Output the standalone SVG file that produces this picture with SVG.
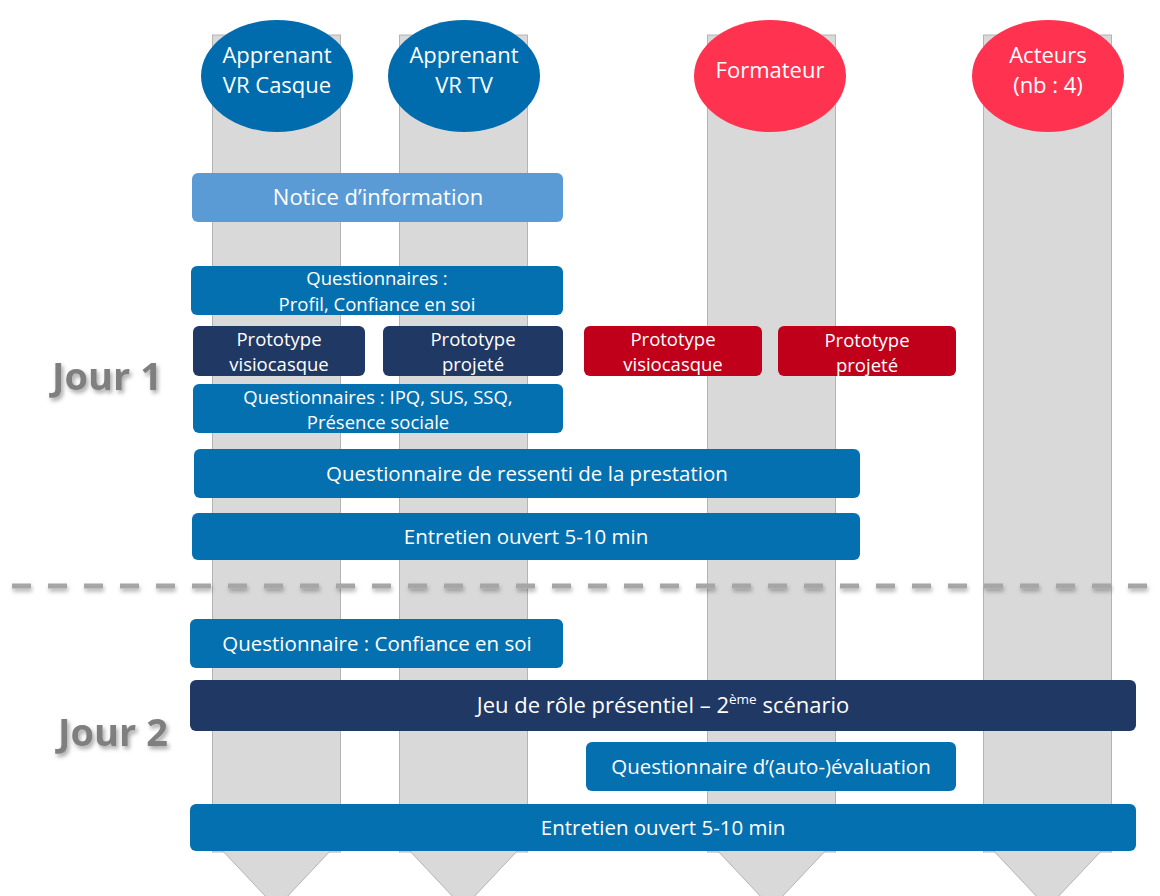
<svg xmlns="http://www.w3.org/2000/svg" width="1160" height="896" viewBox="0 0 1160 896">
<defs>
<style>
.lane{fill:#D9D9D9;stroke:#B4B4B4;stroke-width:1}
.ell-blue{fill:#006CAD}
.ell-red{fill:#FF324F}
.box-light{fill:#5B9BD5}
.box-blue{fill:#0570AF}
.box-navy{fill:#203864}
.box-red{fill:#C0001A}
.t{font-family:"Open Sans","Liberation Sans",sans-serif;fill:#FFFFFF;text-anchor:middle}
.t22{font-size:22px}
.t20{font-size:20.5px}
.t17{font-size:18.5px}
.day{font-family:"Open Sans","Liberation Sans",sans-serif;font-weight:bold;font-size:38px;fill:#7F7F7F;filter:url(#sh)}
</style>
<filter id="sh" x="-20%" y="-20%" width="150%" height="160%">
<feDropShadow dx="2" dy="3" stdDeviation="2" flood-color="#000000" flood-opacity="0.35"/>
</filter>
<filter id="lsh" filterUnits="userSpaceOnUse" x="0" y="570" width="1160" height="40">
<feDropShadow dx="1" dy="3" stdDeviation="2" flood-color="#000000" flood-opacity="0.3"/>
</filter>
</defs>
<rect width="1160" height="896" fill="#FFFFFF"/>

<g id="lanes">
<rect class="lane" x="212.5" y="35" width="128" height="817"/>
<polygon class="lane" points="212.5,840 340.5,840 276.5,908" stroke="none"/>
<rect class="lane" x="399.5" y="35" width="128" height="817"/>
<polygon class="lane" points="399.5,840 527.5,840 463.5,908" stroke="none"/>
<rect class="lane" x="707.5" y="35" width="128" height="817"/>
<polygon class="lane" points="707.5,840 835.5,840 771.5,908" stroke="none"/>
<rect class="lane" x="983.5" y="35" width="128" height="817"/>
<polygon class="lane" points="983.5,840 1111.5,840 1047.5,908" stroke="none"/>
</g>

<g id="connectors"></g>

<g id="separator">
<line x1="12" y1="586" x2="1160" y2="586" stroke="#A6A6A6" stroke-width="5" stroke-dasharray="19,17" filter="url(#lsh)"/>
</g>

<g id="actor-vr-casque">
<ellipse class="ell-blue" cx="277" cy="76" rx="76" ry="56"/>
<text class="t t22" x="277" y="63">Apprenant</text>
<text class="t t22" x="277" y="93">VR Casque</text>
</g>
<g id="actor-vr-tv">
<ellipse class="ell-blue" cx="464" cy="76" rx="76" ry="56"/>
<text class="t t22" x="464" y="63">Apprenant</text>
<text class="t t22" x="464" y="93">VR TV</text>
</g>
<g id="actor-formateur">
<ellipse class="ell-red" cx="770" cy="76" rx="76" ry="56"/>
<text class="t t22" x="770" y="78">Formateur</text>
</g>
<g id="actor-acteurs">
<ellipse class="ell-red" cx="1048" cy="76" rx="76" ry="56"/>
<text class="t t22" x="1048" y="63">Acteurs</text>
<text class="t t22" x="1048" y="93">(nb : 4)</text>
</g>

<g id="jour1-label"><text class="day" x="52" y="390">Jour 1</text></g>
<g id="jour2-label"><text class="day" x="58" y="746">Jour 2</text></g>

<g id="notice">
<rect class="box-light" x="192" y="173" width="371" height="49" rx="6"/>
<text class="t t22" x="378" y="205">Notice d’information</text>
</g>
<g id="q-profil">
<rect class="box-blue" x="191" y="266" width="372" height="49" rx="6"/>
<text class="t t17" x="377" y="285">Questionnaires :</text>
<text class="t t17" x="377" y="311">Profil, Confiance en soi</text>
</g>
<g id="proto-visio-app">
<rect class="box-navy" x="193" y="326" width="172" height="50" rx="6"/>
<text class="t t17" x="279" y="346">Prototype</text>
<text class="t t17" x="279" y="371">visiocasque</text>
</g>
<g id="proto-proj-app">
<rect class="box-navy" x="383" y="326" width="180" height="50" rx="6"/>
<text class="t t17" x="473" y="346">Prototype</text>
<text class="t t17" x="473" y="371">projeté</text>
</g>
<g id="proto-visio-form">
<rect class="box-red" x="584" y="326" width="178" height="50" rx="6"/>
<text class="t t17" x="673" y="346">Prototype</text>
<text class="t t17" x="673" y="371">visiocasque</text>
</g>
<g id="proto-proj-form">
<rect class="box-red" x="778" y="326" width="178" height="50" rx="6"/>
<text class="t t17" x="867" y="347">Prototype</text>
<text class="t t17" x="867" y="372">projeté</text>
</g>
<g id="q-ipq">
<rect class="box-blue" x="193" y="384" width="370" height="49" rx="6"/>
<text class="t t17" x="378" y="404">Questionnaires : IPQ, SUS, SSQ,</text>
<text class="t t17" x="378" y="429">Présence sociale</text>
</g>
<g id="q-ressenti">
<rect class="box-blue" x="194" y="449" width="666" height="49" rx="6"/>
<text class="t t20" x="527" y="481">Questionnaire de ressenti de la prestation</text>
</g>
<g id="entretien-1">
<rect class="box-blue" x="192" y="513" width="668" height="47" rx="6"/>
<text class="t t20" x="526" y="544">Entretien ouvert 5-10 min</text>
</g>
<g id="q-confiance">
<rect class="box-blue" x="190" y="619" width="373" height="49" rx="6"/>
<text class="t t20" x="377" y="651">Questionnaire : Confiance en soi</text>
</g>
<g id="jeu-role">
<rect class="box-navy" x="190" y="680" width="946" height="51" rx="6"/>
<text class="t t22" x="663" y="713">Jeu de rôle présentiel – 2<tspan font-size="13.5" dy="-9">ème</tspan><tspan dy="9"> scénario</tspan></text>
</g>
<g id="q-auto-eval">
<rect class="box-blue" x="586" y="742" width="370" height="49" rx="6"/>
<text class="t t20" x="771" y="774">Questionnaire d’(auto-)évaluation</text>
</g>
<g id="entretien-2">
<rect class="box-blue" x="190" y="804" width="946" height="47" rx="6"/>
<text class="t t20" x="663" y="835">Entretien ouvert 5-10 min</text>
</g>
</svg>
